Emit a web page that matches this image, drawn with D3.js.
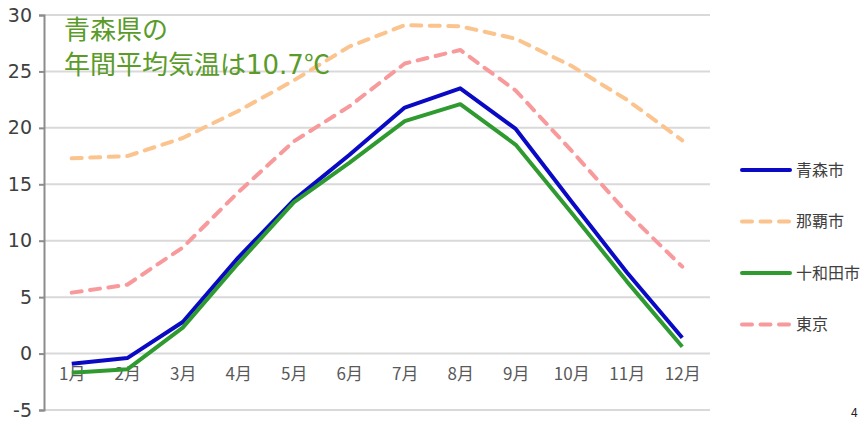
<!DOCTYPE html>
<html><head><meta charset="utf-8">
<script src="https://cdn.jsdelivr.net/npm/d3@7/dist/d3.min.js"></script>
<style>
html,body{margin:0;padding:0;background:#fff;}
svg{display:block;font-family:"Noto Sans CJK JP","Noto Sans",sans-serif;}
</style></head>
<body>
<svg id="chart" width="864" height="421"></svg>
<script>
const months = ["1月","2月","3月","4月","5月","6月","7月","8月","9月","10月","11月","12月"];
const yTicks = [-5,0,5,10,15,20,25,30];
const aomori = [-0.9,-0.4,2.8,8.5,13.6,17.6,21.8,23.5,19.9,13.5,7.2,1.4];
const naha   = [17.3,17.5,19.1,21.5,24.2,27.2,29.1,29.0,27.9,25.5,22.5,18.9];
const towada = [-1.7,-1.4,2.3,8.0,13.4,16.9,20.6,22.1,18.5,12.5,6.4,0.6];
const tokyo  = [5.4,6.1,9.4,14.3,18.8,21.9,25.7,26.9,23.3,18.0,12.5,7.7];
const seriesNames = ["青森市","那覇市","十和田市","東京"];
const titleLines = ["青森県の","年間平均気温は10.7℃"];

const series = [
  {name: seriesNames[0], values: aomori, color: "#0a0ac4", dash: null},
  {name: seriesNames[1], values: naha,   color: "#fbc48e", dash: "10,8.5"},
  {name: seriesNames[2], values: towada, color: "#2f9a30", dash: null},
  {name: seriesNames[3], values: tokyo,  color: "#f89a9c", dash: "10,8.5"}
];

const svg = d3.select("#chart");
const mLeft = 44, mRight = 710, mTop = 15, mBottom = 410;

const x = d3.scalePoint().domain(months).range([mLeft, mRight]).padding(0.5);
const y = d3.scaleLinear().domain([-5, 30]).range([mBottom, mTop]);

// gridlines
svg.append("g").selectAll("line").data(yTicks).join("line")
  .attr("x1", mLeft).attr("x2", mRight)
  .attr("y1", d => y(d)).attr("y2", d => y(d))
  .attr("stroke", "#d9d9d9").attr("stroke-width", 2);

// y axis
const yAxis = d3.axisLeft(y).tickValues(yTicks).tickSize(5).tickPadding(7)
  .tickFormat(d => String(d));
const gy = svg.append("g").attr("transform", `translate(${mLeft},0)`).call(yAxis);
gy.select(".domain").attr("stroke", "#8c8c8c").attr("stroke-width", 2);
gy.selectAll(".tick line").attr("stroke", "#8c8c8c").attr("stroke-width", 2);
gy.selectAll(".tick text").attr("fill", "#404040").attr("font-size", 19)
  .attr("font-family", "'DejaVu Sans','Noto Sans',sans-serif");

// x labels
const xAxis = d3.axisBottom(x).tickSize(0).tickPadding(14);
const gx = svg.append("g").attr("transform", `translate(0,${y(0)})`).call(xAxis);
gx.select(".domain").remove();
gx.selectAll(".tick text").attr("fill", "#595959").attr("font-size", 17)
  .attr("font-family", "'Noto Sans CJK JP',sans-serif");

// lines
const line = d3.line().x((d, i) => x(months[i])).y(d => y(d));
svg.append("g").selectAll("path").data(series).join("path")
  .attr("d", d => line(d.values))
  .attr("fill", "none")
  .attr("stroke", d => d.color)
  .attr("stroke-width", 4)
  .attr("stroke-linecap", d => d.dash ? "round" : "butt")
  .attr("stroke-linejoin", "round")
  .attr("stroke-dasharray", d => d.dash);

// legend
const lg = svg.append("g").selectAll("g").data(series).join("g")
  .attr("transform", (d, i) => `translate(742,${170 + i * 51.5})`);
lg.append("line").attr("x1", 0).attr("x2", 48).attr("y1", 0).attr("y2", 0)
  .attr("stroke", d => d.color).attr("stroke-width", 4)
  .attr("stroke-linecap", "round")
  .attr("stroke-dasharray", d => d.dash);
lg.append("text").attr("x", 54).attr("y", 0).attr("dy", "0.35em")
  .attr("font-size", 16).attr("fill", "#404040").text(d => d.name);

// title (digits in a wider Latin face)
const tt = svg.append("g").selectAll("text").data(titleLines).join("text")
  .attr("x", 64).attr("y", (d, i) => 39 + i * 35)
  .attr("font-size", 26).attr("fill", "#5b9b2a");
tt.each(function(d) {
  const parts = d.match(/[0-9.]+|[^0-9.]+/g);
  d3.select(this).selectAll("tspan").data(parts).join("tspan")
    .attr("font-family", p => /^[0-9.]+$/.test(p) ? "'DejaVu Sans',sans-serif" : null)
    .text(p => p);
});

// page number
svg.append("text").attr("x", 851).attr("y", 417).attr("font-size", 12)
  .attr("fill", "#222").text("4");
</script>
</body></html>
